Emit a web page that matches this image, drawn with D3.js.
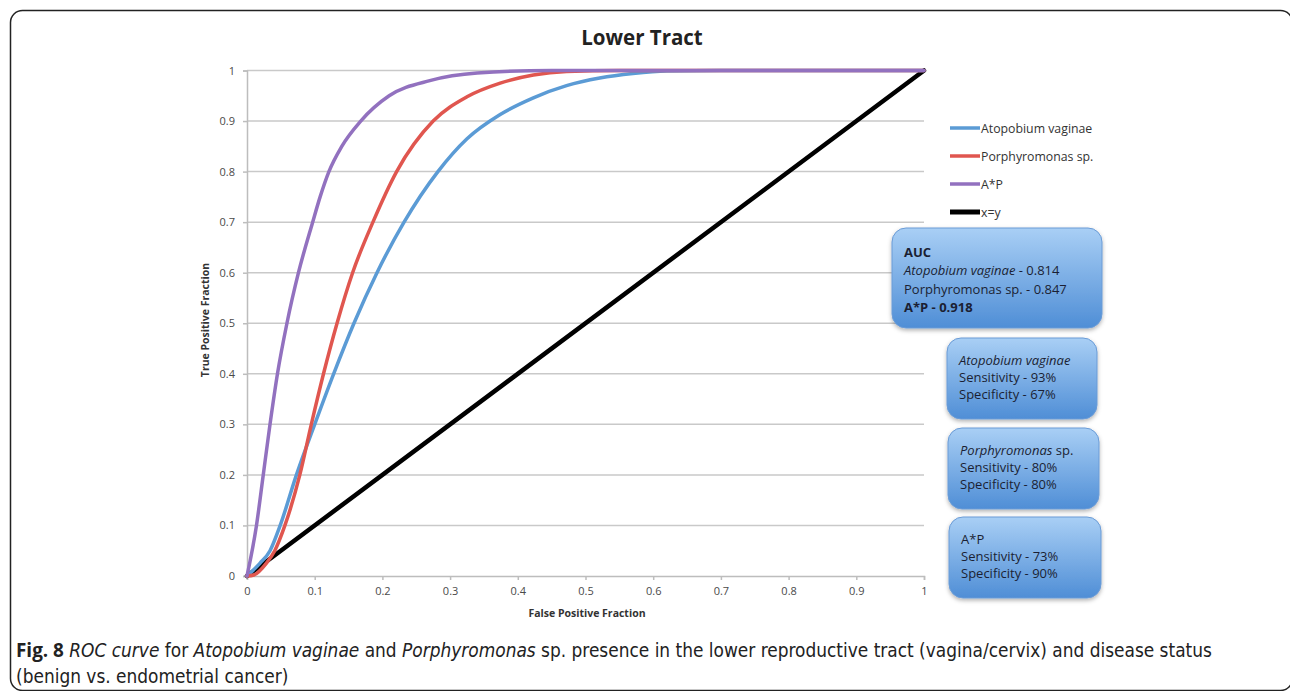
<!DOCTYPE html>
<html>
<head>
<meta charset="utf-8">
<script src="https://cdn.jsdelivr.net/npm/d3@7"></script>
<style>
  body { margin: 0; background: #fff; }
  svg { display: block; }
</style>
</head>
<body>
<div id="chart"></div>
<script>
// ROC curves (false positive fraction -> true positive fraction)
const atopobiumFpr = [0, 0.019, 0.034, 0.049, 0.073, 0.1, 0.128, 0.158, 0.192, 0.232, 0.282, 0.325, 0.374, 0.423, 0.472, 0.521, 0.57, 0.62, 0.7, 1];
const atopobiumTpr = [0, 0.025, 0.05, 0.1, 0.2, 0.3, 0.4, 0.5, 0.6, 0.7, 0.8, 0.865, 0.913, 0.946, 0.97, 0.985, 0.994, 0.999, 1, 1];

const porphyFpr = [0, 0.01, 0.029, 0.041, 0.056, 0.078, 0.095, 0.113, 0.133, 0.156, 0.186, 0.221, 0.275, 0.325, 0.374, 0.423, 0.472, 0.55, 0.7, 1];
const porphyTpr = [0, 0.002, 0.026, 0.05, 0.1, 0.2, 0.3, 0.4, 0.5, 0.6, 0.7, 0.8, 0.9, 0.948, 0.975, 0.991, 0.998, 1, 1, 1];

const apFpr = [0, 0.014, 0.024, 0.034, 0.045, 0.059, 0.076, 0.097, 0.108, 0.121, 0.14, 0.168, 0.21, 0.27, 0.34, 0.45, 0.7, 1];
const apTpr = [0, 0.1, 0.2, 0.3, 0.4, 0.5, 0.6, 0.7, 0.75, 0.8, 0.85, 0.9, 0.95, 0.98, 0.995, 1, 1, 1];

const diagFpr = [0, 1];
const diagTpr = [0, 1];

const seriesNames = ["Atopobium vaginae", "Porphyromonas sp.", "A*P", "x=y"];
const seriesColors = ["#5b9bd5", "#e0564f", "#9271bf", "#000000"];
const tickValues = [0, 0.1, 0.2, 0.3, 0.4, 0.5, 0.6, 0.7, 0.8, 0.9, 1];

// text boxes on the right
const aucLines = [
  [{t: "AUC", b: true}],
  [{t: "Atopobium vaginae", i: true}, {t: " - 0.814"}],
  [{t: "Porphyromonas sp. - 0.847"}],
  [{t: "A*P - 0.918", b: true}]
];
const statBoxes = [
  [[{t: "Atopobium vaginae", i: true}], [{t: "Sensitivity - 93%"}], [{t: "Specificity - 67%"}]],
  [[{t: "Porphyromonas", i: true}, {t: " sp."}], [{t: "Sensitivity - 80%"}], [{t: "Specificity - 80%"}]],
  [[{t: "A*P"}], [{t: "Sensitivity - 73%"}], [{t: "Specificity - 90%"}]]
];

const W = 1290, H = 691;
const font = "'Open Sans', sans-serif";
const narrow = "'Liberation Sans Narrow', 'DejaVu Sans Condensed', 'Open Sans', sans-serif";

const svg = d3.select("#chart").append("svg")
  .attr("width", W)
  .attr("height", H);

// outer frame
svg.append("rect")
  .attr("x", 10.5).attr("y", 10.5)
  .attr("width", 1282).attr("height", 680)
  .attr("rx", 12)
  .attr("fill", "none")
  .attr("stroke", "#222")
  .attr("stroke-width", 1.5);

const x = d3.scaleLinear().domain([0, 1]).range([247, 924]);
const y = d3.scaleLinear().domain([0, 1]).range([576, 70.5]);

// gridlines
svg.append("g")
  .selectAll("line")
  .data(tickValues.slice(1))
  .enter().append("line")
  .attr("x1", x(0)).attr("x2", x(1))
  .attr("y1", d => y(d)).attr("y2", d => y(d))
  .attr("stroke", "#c9c9c9")
  .attr("stroke-width", 1.5);

// axes
const yAxis = svg.append("g")
  .attr("transform", `translate(${x(0)},0)`)
  .call(d3.axisLeft(y).tickValues(tickValues).tickSize(4).tickPadding(8).tickFormat(d3.format("")));
const xAxis = svg.append("g")
  .attr("transform", `translate(0,${y(0)})`)
  .call(d3.axisBottom(x).tickValues(tickValues).tickSize(4).tickPadding(7).tickFormat(d3.format("")));

[xAxis, yAxis].forEach(a => {
  a.select(".domain").attr("stroke", "#bdbdbd").attr("stroke-width", 1.5);
  a.selectAll(".tick line").attr("stroke", "#bdbdbd").attr("stroke-width", 1.5);
  a.selectAll(".tick text")
    .attr("fill", "#4a4a4a")
    .style("font-family", font)
    .style("font-size", "11px");
});

// title and axis titles
svg.append("text")
  .attr("x", 642).attr("y", 45)
  .attr("text-anchor", "middle")
  .style("font-family", font)
  .style("font-weight", "bold")
  .style("font-size", "20.5px")
  .attr("fill", "#222")
  .text("Lower Tract");

svg.append("text")
  .attr("x", 587).attr("y", 617)
  .attr("text-anchor", "middle")
  .style("font-family", font)
  .style("font-weight", "bold")
  .style("font-size", "10.5px")
  .attr("fill", "#333")
  .text("False Positive Fraction");

svg.append("text")
  .attr("transform", "translate(209,320) rotate(-90)")
  .attr("text-anchor", "middle")
  .style("font-family", font)
  .style("font-weight", "bold")
  .style("font-size", "10.5px")
  .attr("fill", "#333")
  .text("True Positive Fraction");

// curves
const series = [
  {fpr: atopobiumFpr, tpr: atopobiumTpr, w: 3.5},
  {fpr: porphyFpr, tpr: porphyTpr, w: 3.5},
  {fpr: apFpr, tpr: apTpr, w: 3.5},
  {fpr: diagFpr, tpr: diagTpr, w: 4.5}
];
const line = d3.line()
  .x(d => x(d[0]))
  .y(d => y(d[1]))
  .curve(d3.curveMonotoneX);

const drawOrder = [3, 0, 1, 2];
svg.append("g")
  .selectAll("path")
  .data(drawOrder)
  .enter().append("path")
  .attr("d", i => line(series[i].fpr.map((v, k) => [v, series[i].tpr[k]])))
  .attr("fill", "none")
  .attr("stroke", i => seriesColors[i])
  .attr("stroke-width", i => series[i].w)
  .attr("stroke-linejoin", "round")
  .attr("stroke-linecap", "round");

// legend
const legend = svg.append("g").attr("transform", "translate(950,128)");
legend.selectAll("g")
  .data(seriesNames)
  .enter().append("g")
  .attr("transform", (d, i) => `translate(0,${i * 28})`)
  .each(function(d, i) {
    const g = d3.select(this);
    g.append("line")
      .attr("x1", 0).attr("x2", 30)
      .attr("stroke", seriesColors[i])
      .attr("stroke-width", i === 3 ? 5 : 3.5);
    g.append("text")
      .attr("x", 31).attr("y", 4.5)
      .style("font-family", font)
      .style("font-size", "12.3px")
      .attr("fill", "#333")
      .text(d);
  });

// blue gradient for the boxes
const defs = svg.append("defs");
const grad = defs.append("linearGradient")
  .attr("id", "boxGrad")
  .attr("x1", 0).attr("y1", 0).attr("x2", 0).attr("y2", 1);
grad.append("stop").attr("offset", "0%").attr("stop-color", "#a9cff5");
grad.append("stop").attr("offset", "100%").attr("stop-color", "#4f8ed6");
const shadow = defs.append("filter").attr("id", "shadow")
  .attr("x", "-10%").attr("y", "-10%").attr("width", "130%").attr("height", "140%");
shadow.append("feDropShadow")
  .attr("dx", 0).attr("dy", 2).attr("stdDeviation", 2)
  .attr("flood-color", "#000").attr("flood-opacity", 0.3);

function drawBox(bx, by, bw, bh, lines, first, lineGap) {
  svg.append("rect")
    .attr("x", bx).attr("y", by)
    .attr("width", bw).attr("height", bh)
    .attr("rx", 14)
    .attr("fill", "url(#boxGrad)")
    .attr("stroke", "#6a9bd6")
    .attr("stroke-width", 1)
    .attr("filter", "url(#shadow)");
  const t = svg.append("text")
    .style("font-family", font)
    .style("font-size", "13px")
    .attr("fill", "#1b1f33");
  lines.forEach((parts, li) => {
    parts.forEach((p, pi) => {
      const ts = t.append("tspan").text(p.t);
      if (pi === 0) ts.attr("x", bx + 12).attr("y", by + first + li * lineGap);
      if (p.b) ts.style("font-weight", "bold");
      if (p.i) ts.style("font-style", "italic");
    });
  });
}

drawBox(892, 228, 210, 100, aucLines, 28.5, 18.5);
const boxTops = [338, 428, 517];
statBoxes.forEach((lines, i) => drawBox(947 + i, boxTops[i], 150 + i, 81, lines, 27, 17));

// caption
let capSize = 17.5;
const cap1 = svg.append("text")
  .attr("x", 16).attr("y", 657)
  .attr("fill", "#222");
const capParts = [
  {t: "Fig. 8", b: true},
  {t: " ROC curve", i: true},
  {t: " for "},
  {t: "Atopobium vaginae", i: true},
  {t: " and "},
  {t: "Porphyromonas", i: true},
  {t: " sp. presence in the lower reproductive tract (vagina/cervix) and disease status"}
];
capParts.forEach(p => {
  const ts = cap1.append("tspan").text(p.t)
    .style("font-family", p.b ? font : narrow);
  if (p.b) ts.style("font-weight", "bold");
  if (p.i) ts.style("font-style", "italic");
});
cap1.style("font-size", capSize + "px");
// fit the first caption line to the width it has in the figure
const capW = cap1.node().getComputedTextLength();
capSize = capSize * 1197 / capW;
cap1.style("font-size", capSize + "px");

svg.append("text")
  .attr("x", 16).attr("y", 683)
  .style("font-family", narrow)
  .style("font-size", capSize + "px")
  .attr("fill", "#222")
  .text("(benign vs. endometrial cancer)");
</script>
</body>
</html>
